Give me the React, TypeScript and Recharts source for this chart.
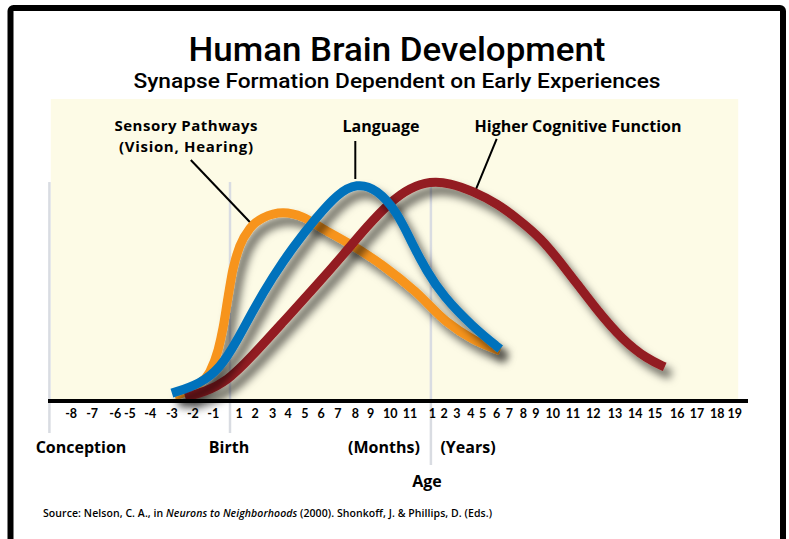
import { LineChart, Line, XAxis, YAxis, ReferenceLine, ReferenceArea } from 'recharts';

// positions on the age axis (0-100 across the axis line), one per tick label
const TICK_LABELS = [
  '-8', '-7', '-6', '-5', '-4', '-3', '-2', '-1',
  '1', '2', '3', '4', '5', '6', '7', '8', '9', '10', '11',
  '1', '2', '3', '4', '5', '6', '7', '8', '9', '10', '11', '12', '13', '14', '15', '16', '17', '18', '19',
];
const TICK_POS = [
  3.3, 6.3, 9.6, 11.7, 14.6, 17.7, 20.7, 23.6,
  27.3, 29.6, 32.1, 34.3, 36.7, 39.0, 41.4, 43.9, 46.1, 48.9, 51.7,
  54.9, 56.6, 58.4, 60.4, 62.1, 64.1, 65.9, 67.9, 69.7, 72.1, 75.0, 77.9, 81.0, 83.9, 86.7, 89.9, 92.7, 95.6, 98.1,
];

// synapse formation (0-100)
const SENSORY_X = [18.1, 21.3, 23.1, 24.3, 25.0, 25.7, 26.4, 27.4, 28.9, 30.7, 33.6, 36.4, 39.3, 43.1, 47.9, 52.4, 57.0, 60.7, 64.6];
const SENSORY_Y = [1.7, 5.3, 9.6, 16.9, 24.2, 34.1, 43.4, 51.3, 57.3, 60.6, 62.3, 60.9, 57.0, 52.0, 44.7, 36.4, 26.2, 20.5, 16.6];

const LANGUAGE_X = [17.7, 21.7, 24.6, 27.0, 29.3, 32.1, 35.0, 38.4, 41.3, 44.1, 47.0, 49.9, 52.1, 54.1, 56.4, 60.7, 64.6];
const LANGUAGE_Y = [2.6, 5.6, 10.9, 19.9, 30.1, 41.1, 51.0, 60.9, 68.5, 72.2, 70.2, 62.6, 51.7, 43.0, 34.8, 24.5, 17.2];

const HIGHER_X = [19.6, 22.4, 25.6, 28.9, 33.6, 38.4, 42.4, 45.6, 48.9, 51.7, 54.6, 57.4, 60.7, 64.3, 67.1, 70.3, 74.1, 78.4, 82.1, 85.6, 88.1];
const HIGHER_Y = [1.3, 3.0, 6.6, 14.2, 26.2, 38.4, 49.0, 57.9, 65.9, 70.6, 72.8, 72.2, 69.5, 65.2, 60.3, 54.3, 43.4, 30.1, 20.2, 13.9, 11.3];

// conception, birth, 1 year
const MARKERS = [0.2, 26.0, 54.7];
const MARKER_BOTTOM = [-10.6, -10.6, -21.2];

const toPoints = (xs: number[], ys: number[]) => xs.map((x, i) => ({ x, y: ys[i] }));

const sensory = toPoints(SENSORY_X, SENSORY_Y);
const language = toPoints(LANGUAGE_X, LANGUAGE_Y);
const higher = toPoints(HIGHER_X, HIGHER_Y);

const FONT = '"Open Sans", Lato, sans-serif';
const TICK_FONT = 'Lato, "Open Sans", sans-serif';

export default function App() {
  return (
    <div style={{ position: 'absolute', left: 0, top: 0, width: 789, height: 539, background: '#fff', overflow: 'hidden', fontFamily: FONT }}>
      <style>{`.shadowed .recharts-line-curve { filter: url(#dropShadow); }`}</style>
      <LineChart width={789} height={539} margin={{ top: 99, right: 41, bottom: 108, left: 48 }}>
        <defs>
          <filter id="dropShadow" x="-20%" y="-20%" width="150%" height="160%">
            <feDropShadow dx="6" dy="8" stdDeviation="4" floodColor="#000" floodOpacity="0.6" />
          </filter>
        </defs>
        <XAxis
          type="number"
          dataKey="x"
          domain={[0, 100]}
          ticks={TICK_POS}
          interval={0}
          tickFormatter={(_v: number, i: number) => TICK_LABELS[i]}
          tickLine={false}
          axisLine={{ stroke: '#000', strokeWidth: 4 }}
          tick={{ fill: '#000', fontSize: 12.5, fontWeight: 700, fontFamily: TICK_FONT }}
          height={30}
        />
        <YAxis hide type="number" domain={[0, 100]} />
        <ReferenceArea x1={0.4} x2={98.6} y1={0} y2={100} fill="#fdfbe6" fillOpacity={1} stroke="none" ifOverflow="visible" />
        {MARKERS.map((m, i) => (
          <ReferenceLine
            key={m}
            segment={[{ x: m, y: 72.5 }, { x: m, y: MARKER_BOTTOM[i] }]}
            stroke="#d9dce2"
            strokeWidth={2.5}
            ifOverflow="visible"
          />
        ))}
        <ReferenceLine segment={[{ x: 20.4, y: 79.8 }, { x: 29.1, y: 58.6 }]} stroke="#000" strokeWidth={2} ifOverflow="visible" />
        <ReferenceLine segment={[{ x: 43.9, y: 86.1 }, { x: 43.9, y: 73.5 }]} stroke="#000" strokeWidth={2} ifOverflow="visible" />
        <ReferenceLine segment={[{ x: 64.1, y: 86.8 }, { x: 61.1, y: 69.9 }]} stroke="#000" strokeWidth={2} ifOverflow="visible" />
        <Line className="shadowed" data={sensory} dataKey="y" type="monotone" stroke="#f7941d" strokeWidth={9} dot={false} activeDot={false} isAnimationActive={false} />
        <Line className="shadowed" data={higher} dataKey="y" type="basis" stroke="#931b20" strokeWidth={9} dot={false} activeDot={false} isAnimationActive={false} />
        <Line className="shadowed" data={language} dataKey="y" type="basis" stroke="#0072bc" strokeWidth={9} dot={false} activeDot={false} isAnimationActive={false} />
      </LineChart>

      <svg width={789} height={539} style={{ position: 'absolute', left: 0, top: 0, pointerEvents: 'none' }}>
        <rect x={10.5} y={8} width={772.5} height={620} rx={3} fill="none" stroke="#000" strokeWidth={6} />
        <g fontFamily={FONT} fontWeight={700} fill="#000" textAnchor="middle">
          <text x={397} y={61} fontSize={34} fontFamily="Roboto, sans-serif" fontWeight={500} textLength={417} lengthAdjust="spacingAndGlyphs">Human Brain Development</text>
          <text x={397} y={88} fontSize={20} fontFamily="Roboto, sans-serif" fontWeight={500} textLength={527} lengthAdjust="spacingAndGlyphs">Synapse Formation Dependent on Early Experiences</text>
          <text x={186} y={131} fontSize={15} textLength={143} lengthAdjust="spacing">Sensory Pathways</text>
          <text x={186} y={152} fontSize={15} textLength={134} lengthAdjust="spacing">(Vision, Hearing)</text>
          <text x={381} y={132} fontSize={16}>Language</text>
          <text x={578} y={132} fontSize={16}>Higher Cognitive Function</text>
          <text x={81} y={453} fontSize={16}>Conception</text>
          <text x={229} y={453} fontSize={16}>Birth</text>
          <text x={384} y={453} fontSize={16}>(Months)</text>
          <text x={468} y={453} fontSize={16}>(Years)</text>
          <text x={427} y={487} fontSize={16}>Age</text>
          <text x={43} y={517} fontSize={10.5} fontWeight={600} textAnchor="start" textLength={449} lengthAdjust="spacing">
            Source: Nelson, C. A., in <tspan fontStyle="italic">Neurons to Neighborhoods</tspan> (2000). Shonkoff, J. &amp; Phillips, D. (Eds.)
          </text>
        </g>
      </svg>
    </div>
  );
}
